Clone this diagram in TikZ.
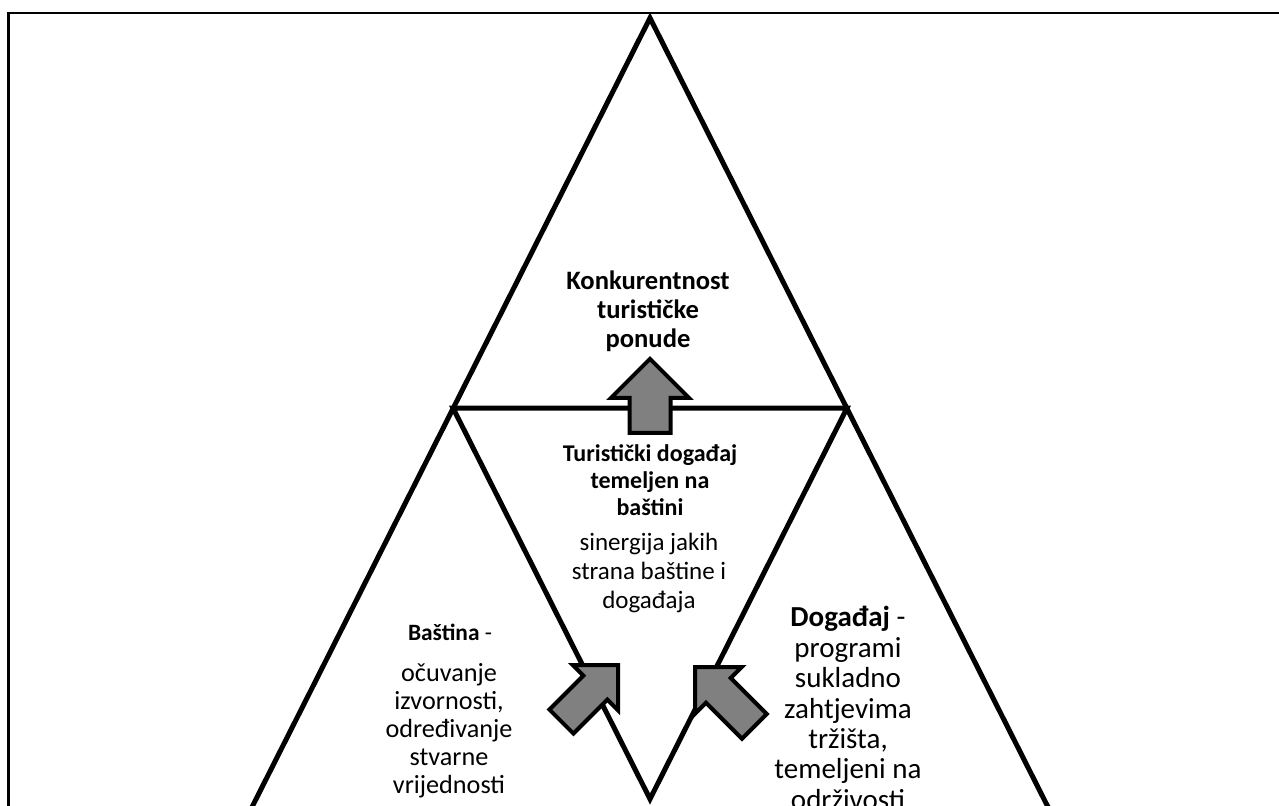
\documentclass[tikz,border=0pt]{standalone}
\usepackage{fontspec}
\setmainfont{Carlito}
\usetikzlibrary{shapes.arrows}

\tikzset{
  edge/.style={line width=2.5pt},
  blockarrow/.style={single arrow, draw, fill=gray, line width=2pt, inner xsep=0pt,
    single arrow tip angle=90, anchor=tip},
  txt/.style={align=center, inner sep=0pt, font=\fontsize{12.5}{14.4}\selectfont},
  title/.style={align=center, inner sep=0pt, font=\fontsize{12}{13.5}\selectfont\bfseries}
}

\begin{document}
\begin{tikzpicture}[x=0.5pt, y=-0.5pt]
    \clip (0,0) rectangle (1279,805);
    % frame
    \draw[line width=1.2pt] (8.5,810) -- (8.5,13) -- (1290,13);

    \coordinate (apex) at (650,18);
    \coordinate (bl) at (248,815);
    \coordinate (br) at (1052,815);
    \coordinate (A) at (453,408);
    \coordinate (B) at (847,408);
    \coordinate (C) at (650,799);

    \draw[edge] (bl) -- (apex) -- (br);
    \draw[edge] (A) -- (B) -- (C) -- cycle;

    \node at (648,311) [txt, font=\fontsize{13.3}{14.6}\selectfont\bfseries] (konk) {Konkurentnost\\turističke\\ponude};
    \node at (650,480) [title] (tdog) {Turistički događaj\\temeljen na\\baštini};
    \node at (649,573) [txt] (tdogtxt) {sinergija jakih\\strana baštine i\\događaja};
    \node at (450,632) [title, font=\fontsize{11.7}{13.5}\selectfont] (bas) {\textbf{Baština} -};
    \node at (449,731) [txt, font=\fontsize{13.1}{14}\selectfont] (bastxt) {očuvanje\\izvornosti,\\određivanje\\stvarne\\vrijednosti};
    \node at (848,708) [txt, font=\fontsize{14.5}{15.2}\selectfont] (dog) {\textbf{Događaj} -\\programi\\sukladno\\zahtjevima\\tržišta,\\temeljeni na\\održivosti};

    \node at (650,356) [blockarrow, rotate=90, inner ysep=9.25pt, single arrow head extend=9.25pt, minimum height=37pt] (up) {};
    \node at (620,663) [blockarrow, rotate=45, inner ysep=7.5pt, single arrow head extend=7.5pt, minimum height=40pt] (left) {};
    \node at (693,665) [blockarrow, rotate=135, inner ysep=7.75pt, single arrow head extend=7.75pt, minimum height=42pt] (right) {};
\end{tikzpicture}
\end{document}
